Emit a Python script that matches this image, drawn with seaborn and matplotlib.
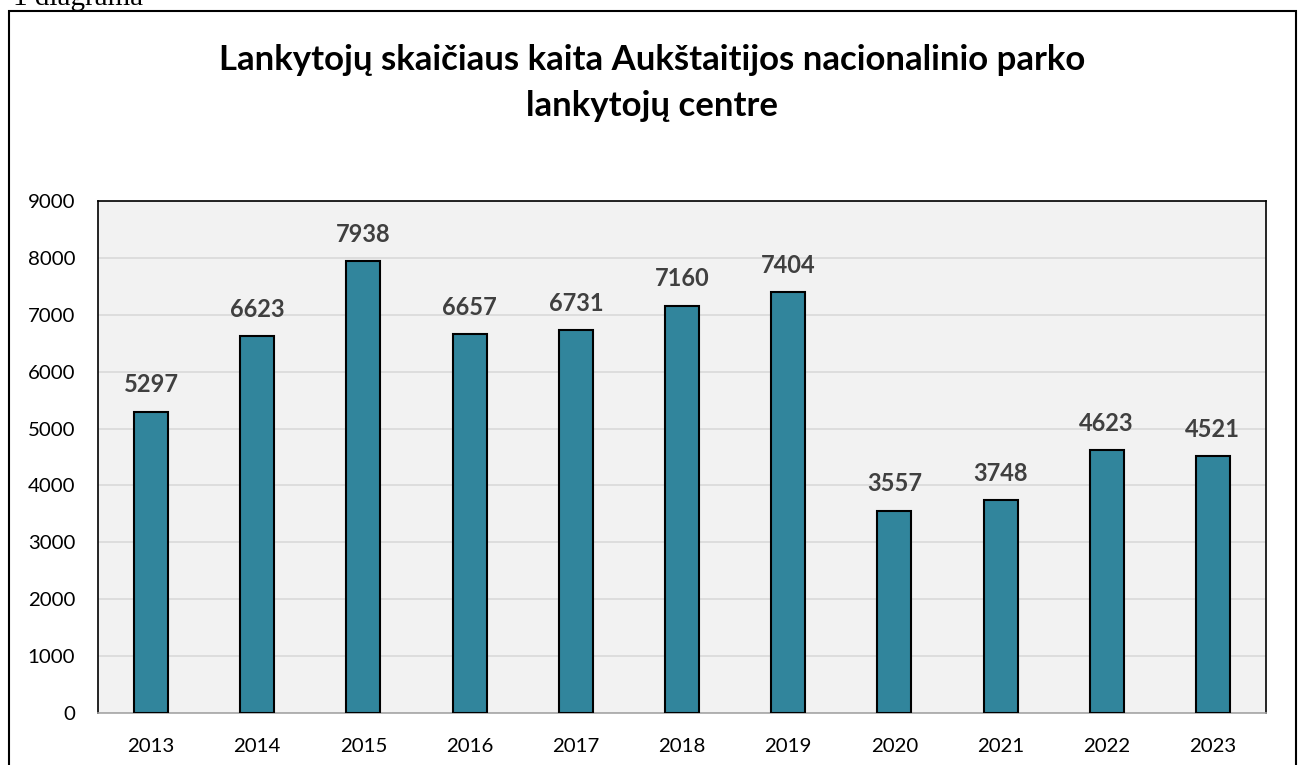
import matplotlib
matplotlib.use("Agg")
import matplotlib.pyplot as plt
import seaborn as sns
import pandas as pd
from matplotlib.patches import Rectangle

years = ["2013", "2014", "2015", "2016", "2017", "2018", "2019", "2020", "2021", "2022", "2023"]
visitors = [5297, 6623, 7938, 6657, 6731, 7160, 7404, 3557, 3748, 4623, 4521]
yticks = [0, 1000, 2000, 3000, 4000, 5000, 6000, 7000, 8000, 9000]
title = "Lankytojų skaičiaus kaita Aukštaitijos nacionalinio parko\nlankytojų centre"
caption = "1 diagrama"

df = pd.DataFrame({"year": years, "visitors": visitors})

sns.set_theme(style="white")
plt.rcParams["font.family"] = ["Lato", "DejaVu Sans"]

fig = plt.figure(figsize=(13.01, 7.65), dpi=100)
ax = fig.add_axes([98 / 1301, 52 / 765, (1266 - 98) / 1301, (713 - 201) / 765])

sns.barplot(data=df, x="year", y="visitors", color="#31859C", saturation=1,
            width=0.32, edgecolor="black", linewidth=1.5, ax=ax, zorder=3)

ax.set_facecolor("#f2f2f2")
ax.set_xlim(-0.5, len(years) - 0.5)
ax.set_ylim(0, 9000)
ax.set_yticks(yticks)
ax.set_yticklabels([str(t) for t in yticks])
ax.yaxis.grid(True, color="#d9d9d9", linewidth=1.2, zorder=0)
ax.set_axisbelow(True)
ax.set_xlabel("")
ax.set_ylabel("")
ax.tick_params(axis="both", length=0, labelsize=14.7, colors="black")
ax.tick_params(axis="y", pad=16.5)
ax.tick_params(axis="x", pad=18)
for s in ["left", "top", "right"]:
    ax.spines[s].set_color("black")
    ax.spines[s].set_linewidth(1.2)
ax.spines["bottom"].set_color("#a6a6a6")
ax.spines["bottom"].set_linewidth(1.2)

for i, v in enumerate(visitors):
    ax.annotate(str(v), (i, v), xytext=(0, 11), textcoords="offset points",
                ha="center", va="bottom", fontsize=17, fontweight="bold", color="#404040")

fig.text(652 / 1301, 1 - 83 / 765, title, ha="center", va="center", fontsize=25,
         fontweight="bold", color="black", linespacing=1.5)

frame = Rectangle((9 / 1301, -0.05), (1296 - 9) / 1301, 1.05 - 11 / 765,
                  transform=fig.transFigure, fill=False, edgecolor="black", linewidth=1.5)
fig.add_artist(frame)

fig.text(13 / 1301, 1 - 5 / 765, caption, ha="left", va="baseline", fontsize=21,
         family=["Liberation Serif", "DejaVu Serif"], color="black")

fig.savefig("out.png", dpi=100)
